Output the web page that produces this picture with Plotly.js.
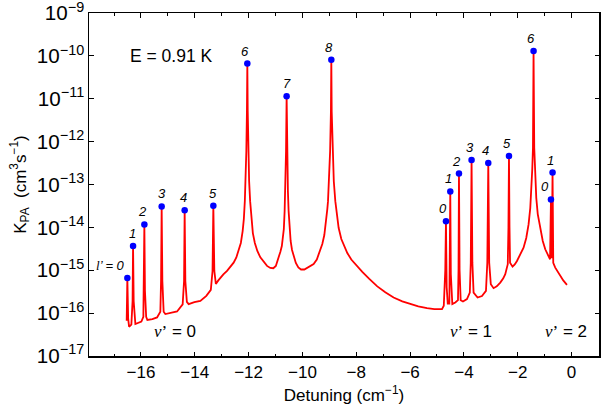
<!DOCTYPE html>
<html>
<head>
<meta charset="utf-8">
<script src="https://cdn.plot.ly/plotly-3.0.1.min.js"></script>
<style>html,body{margin:0;padding:0;background:#fff;}#chart{width:614px;height:416px;}</style>
</head>
<body>
<div id="chart"></div>
<script>
// Detuning (cm^-1)
const detuning = [
  // v' = 0 narrow resonances
  -16.530, -16.505, -16.475, -16.441, -16.356, -16.311, -16.293, -16.270, -16.207, -16.096,
  -15.984, -15.910, -15.892, -15.873, -15.851, -15.806, -15.761, -15.576, -15.401, -15.279,
  -15.253, -15.230, -15.204, -15.156, -15.093, -14.907, -14.658, -14.450, -14.398, -14.376,
  -14.350, -14.294, -14.227, -14.016, -13.793, -13.570, -13.403, -13.340, -13.310, -13.273,
  -13.217,
  // l' = 6, 7, 8 and the wide valley
  -13.124, -13.050, -12.938, -12.801, -12.678, -12.556, -12.455, -12.370, -12.288, -12.221,
  -12.177, -12.140, -12.110, -12.084, -12.062, -12.047, -12.032, -12.010, -11.980, -11.943,
  -11.898, -11.842, -11.768, -11.675, -11.564, -11.434, -11.315, -11.193, -11.081, -10.988,
  -10.895, -10.821, -10.765, -10.721, -10.691, -10.661, -10.635, -10.609, -10.587, -10.565,
  -10.539, -10.513, -10.479, -10.438, -10.386, -10.319, -10.245, -10.152, -10.052, -9.929,
  -9.818, -9.707, -9.584, -9.465, -9.354, -9.261, -9.186, -9.123, -9.075, -9.049,
  -9.008, -8.971, -8.941, -8.926, -8.912, -8.882, -8.834, -8.778, -8.722, -8.655,
  -8.555, -8.444, -8.332, -8.184, -7.998, -7.775, -7.515, -7.218, -6.921, -6.612,
  -6.289, -5.992, -5.695, -5.371, -5.100, -4.814, -4.747,
  // v' = 1 narrow resonances
  -4.692, -4.666, -4.640, -4.600, -4.540, -4.525, -4.506, -4.485, -4.430, -4.320,
  -4.220, -4.200, -4.183, -4.160, -4.120, -4.034, -3.886, -3.780, -3.745, -3.715,
  -3.685, -3.640, -3.492, -3.328, -3.180, -3.130, -3.094, -3.060, -3.000, -2.897,
  -2.779, -2.649, -2.537, -2.463, -2.407, -2.370, -2.345, -2.325, -2.305, -2.285,
  -2.192,
  // v' = 1, l' = 6 and v' = 2
  -2.110, -2.028, -1.924, -1.783, -1.683, -1.597, -1.534, -1.497, -1.460, -1.434,
  -1.412, -1.386, -1.356, -1.311, -1.256, -1.163, -1.070, -0.977, -0.884, -0.799,
  -0.765, -0.736, -0.706, -0.680, -0.606, -0.513, -0.420, -0.308, -0.171
];
// K_PA (cm^3 s^-1)
const kpa = [
  // v' = 0 narrow resonances
  6.6e-17, 6.62e-16, 7.4e-17, 4.8e-17, 5.35e-17, 1.9e-16, 3.67e-15, 1.9e-16, 5.55e-17, 5.8e-17,
  6.3e-17, 8.2e-17, 3.3e-16, 1.17e-14, 3.3e-16, 8.2e-17, 6.9e-17, 7.2e-17, 7.9e-17, 1.07e-16,
  5.6e-16, 3.08e-14, 5.6e-16, 1.07e-16, 9.5e-17, 1.0e-16, 1.09e-16, 1.6e-16, 5.6e-16, 2.52e-14,
  5.6e-16, 1.83e-16, 1.62e-16, 1.8e-16, 1.93e-16, 2.52e-16, 3.48e-16, 9.6e-16, 3.18e-14, 9.6e-16,
  4.8e-16,
  // l' = 6, 7, 8 and the wide valley
  5.79e-16, 6.73e-16, 7.98e-16, 9.64e-16, 1.19e-15, 1.50e-15, 1.99e-15, 2.81e-15, 4.32e-15, 8.20e-15,
  1.56e-14, 4.09e-14, 1.19e-13, 5.94e-13, 5.07e-12, 6.62e-11, 5.07e-12, 5.94e-13, 1.19e-13, 4.09e-14,
  1.56e-14, 7.36e-15, 4.32e-15, 2.81e-15, 1.99e-15, 1.52e-15, 1.26e-15, 1.13e-15, 1.11e-15, 1.26e-15,
  1.83e-15, 2.67e-15, 3.67e-15, 5.64e-15, 9.12e-15, 2.39e-14, 6.98e-14, 5.94e-13, 1.15e-11, 5.94e-13,
  6.98e-14, 2.39e-14, 9.12e-15, 4.80e-15, 2.96e-15, 2.04e-15, 1.48e-15, 1.16e-15, 1.04e-15, 1.04e-15,
  1.13e-15, 1.22e-15, 1.40e-15, 1.78e-15, 2.67e-15, 4.09e-15, 6.62e-15, 1.26e-14, 2.67e-14, 4.09e-14,
  1.19e-13, 5.94e-13, 5.07e-12, 8.2e-11, 5.07e-12, 5.94e-13, 1.19e-13, 4.09e-14, 1.83e-14, 9.79e-15,
  5.35e-15, 3.48e-15, 2.52e-15, 1.78e-15, 1.29e-15, 9.12e-16, 6.28e-16, 4.20e-16, 3.05e-16, 2.31e-16,
  1.88e-16, 1.62e-16, 1.44e-16, 1.31e-16, 1.24e-16, 1.24e-16, 1.48e-16,
  // v' = 1 narrow resonances
  1.0e-15, 1.38e-14, 4.0e-16, 1.67e-16, 1.67e-16, 1.0e-15, 6.87e-14, 8.0e-16, 1.62e-16, 1.77e-16,
  2.0e-16, 1.0e-15, 1.80e-13, 1.0e-15, 2.0e-16, 1.86e-16, 2.12e-16, 3.0e-16, 1.5e-15, 3.73e-13,
  1.5e-15, 3.0e-16, 2.31e-16, 2.5e-16, 3.3e-16, 1.5e-15, 3.18e-13, 1.5e-15, 4.7e-16, 3.81e-16,
  4.20e-16, 5.15e-16, 6.44e-16, 8.07e-16, 1.04e-15, 1.38e-15, 1.0e-14, 4.62e-13, 1.0e-14, 1.5e-15,
  1.21e-15,
  // v' = 1, l' = 6 and v' = 2
  1.36e-15, 1.64e-15, 2.15e-15, 3.36e-15, 5.64e-15, 1.17e-14, 2.81e-14, 6.98e-14, 2.27e-13, 7.10e-13,
  1.31e-10, 7.10e-13, 2.04e-13, 4.88e-14, 2.04e-14, 9.12e-15, 4.80e-15, 3.08e-15, 2.27e-15, 1.80e-15,
  4.48e-14, 1.9e-15, 1.90e-13, 1.48e-15, 1.15e-15, 9.12e-16, 7.36e-16, 5.79e-16, 4.55e-16
];

// resonance peaks (blue dots) and their rotational labels
const peakX = [-16.505, -16.293, -15.873, -15.230, -14.376, -13.310, -12.047, -10.587, -8.926,
               -4.666, -4.506, -4.183, -3.715, -3.094, -2.325, -1.412, -0.765, -0.706];
const peakY = [6.62e-16, 3.67e-15, 1.17e-14, 3.08e-14, 2.52e-14, 3.18e-14, 6.62e-11, 1.15e-11, 8.2e-11,
               1.38e-14, 6.87e-14, 1.80e-13, 3.73e-13, 3.18e-13, 4.62e-13, 1.31e-10, 4.48e-14, 1.90e-13];
const peakLabels = ['0', '1', '2', '3', '4', '5', '6', '7', '8',
                    '0', '1', '2', '3', '4', '5', '6', '0', '1'];

// vibrational band labels
const bandX = [-14.72, -3.73, -0.19];
const bandY = [3.67e-17, 3.67e-17, 3.67e-17];
const bandLabels = ['0', '1', '2'];

const energyText = 'E = 0.91 K';
const energyX = -16.47;
const energyY = 1.0e-10;

// ---- styling ----
const FONT = 'Liberation Sans, Arial, sans-serif';
const SERIF = 'Liberation Serif, Times New Roman, serif';
const labelXShift = [0, -1, -1.5, 0, -1, -0.5, -2, 0, -2, -2.5, -2, -2.5, -2, -2.5, -2, -2.5, -5.5, -1.6];

const annotations = [];
peakLabels.forEach((t, i) => {
  if (i === 0) {
    annotations.push({
      x: peakX[i], y: Math.log10(peakY[i]), xref: 'x', yref: 'y',
      text: '<span style="font-family:' + SERIF + '"><i>l</i></span><i>\u2019 = ' + t + '</i>',
      showarrow: false, xanchor: 'right', yanchor: 'middle', xshift: 0, yshift: 12.5,
      font: {family: FONT, size: 13, color: '#000'}
    });
  } else {
    annotations.push({
      x: peakX[i], y: Math.log10(peakY[i]), xref: 'x', yref: 'y',
      text: '<i>' + t + '</i>', showarrow: false, xanchor: 'center', yanchor: 'middle',
      xshift: labelXShift[i], yshift: 12.5,
      font: {family: FONT, size: 13, color: '#000'}
    });
  }
});
bandLabels.forEach((t, i) => {
  annotations.push({
    x: bandX[i], y: Math.log10(bandY[i]), xref: 'x', yref: 'y',
    text: '<span style="font-family:' + SERIF + '"><i>v</i>\u2019</span> = ' + t,
    showarrow: false, xanchor: 'center', yanchor: 'middle',
    font: {family: FONT, size: 17, color: '#000'}
  });
});
annotations.push({
  x: energyX, y: Math.log10(energyY), xref: 'x', yref: 'y', text: energyText,
  showarrow: false, xanchor: 'left', yanchor: 'middle',
  font: {family: FONT, size: 17.5, color: '#000'}
});

const traces = [
  {x: detuning, y: kpa, type: 'scatter', mode: 'lines',
   line: {color: '#ff0000', width: 1.8}, hoverinfo: 'skip'},
  {x: peakX, y: peakY, type: 'scatter', mode: 'markers',
   marker: {color: '#0000ff', size: 6.5}, hoverinfo: 'skip'}
];

const layout = {
  width: 614, height: 416,
  margin: {l: 89, r: 15, t: 13, b: 60},
  paper_bgcolor: '#fff', plot_bgcolor: '#fff',
  showlegend: false,
  font: {family: FONT, size: 17, color: '#000'},
  xaxis: {
    range: [-17.93, 1.02], tickmode: 'linear', tick0: -16, dtick: 2,
    ticks: 'inside', ticklen: 4.5, tickwidth: 1, tickcolor: '#000',
    minor: {dtick: 1, tick0: 0, ticks: 'inside', ticklen: 2.5, tickwidth: 1, tickcolor: '#000', showgrid: false},
    showline: true, linecolor: '#000', linewidth: 1.5, mirror: 'allticks',
    showgrid: false, zeroline: false,
    tickfont: {family: FONT, size: 17},
    title: {text: 'Detuning (cm<sup>\u22121</sup>)', font: {family: FONT, size: 17}, standoff: 8}
  },
  yaxis: {
    type: 'log', range: [-17.002, -8.998], dtick: 1, exponentformat: 'power', showexponent: 'all',
    ticklabeloverflow: 'allow',
    ticks: 'inside', ticklen: 4.5, tickwidth: 1, tickcolor: '#000',
    showline: true, linecolor: '#000', linewidth: 1.5, mirror: 'allticks',
    showgrid: false, zeroline: false,
    tickfont: {family: FONT, size: 16.5},
    title: {text: 'K<sub>PA</sub>  (cm<sup>3</sup>s<sup>\u22121</sup>)', font: {family: FONT, size: 17}, standoff: 6}
  },
  annotations: annotations
};

Plotly.newPlot('chart', traces, layout, {displayModeBar: false, staticPlot: true});
</script>
</body>
</html>
